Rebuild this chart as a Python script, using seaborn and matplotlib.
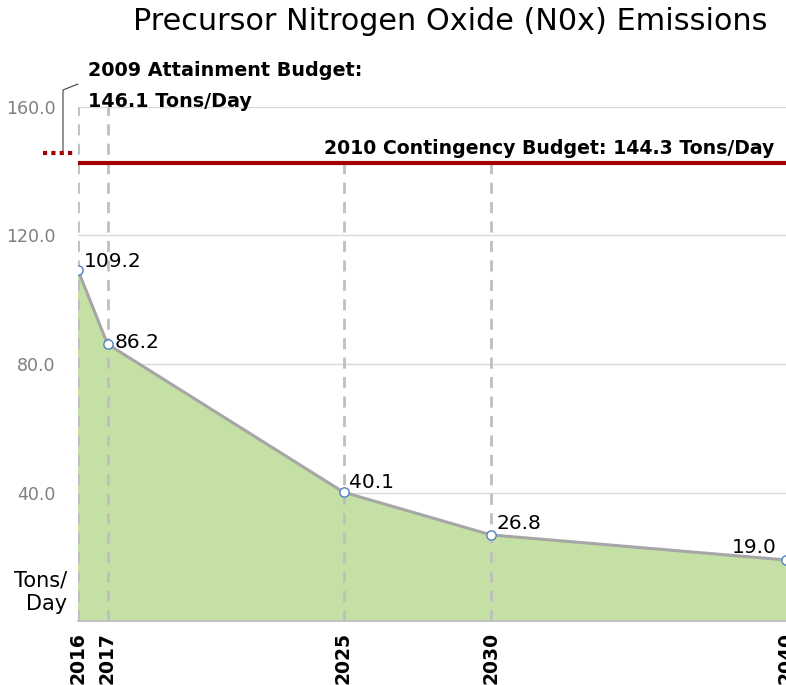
import matplotlib
matplotlib.use('Agg')
import matplotlib.pyplot as plt
import seaborn as sns
import pandas as pd

# data
years = [2016, 2017, 2025, 2030, 2040]
emissions = [109.2, 86.2, 40.1, 26.8, 19.0]
year_labels = ['2016', '2017', '2025', '2030', '2040']
y_ticks = [40, 80, 120, 160]
contingency_budget = 144.3
attainment_budget = 146.1

df = pd.DataFrame({'year': years, 'nox': emissions})

sns.set_theme(style='white')
plt.rcParams['font.family'] = ['DejaVu Sans']
plt.rcParams['text.color'] = 'black'

fig = plt.figure(figsize=(7.86, 6.85), dpi=100)
ax = fig.add_axes([78 / 786, 1 - 621 / 685, (786 - 78) / 786, (621 - 107) / 685])

# grid
for t in y_ticks:
    ax.axhline(t, color='#d9d9d9', lw=1, zorder=0)

ax.fill_between(df['year'], df['nox'], color='#c5e0a5', zorder=1)

# dashed drop lines
for yr in years[:-1]:
    top = 160 if yr < 2020 else 142.6
    ax.plot([yr, yr], [0, top], ls=(0, (4, 3)), color='#bfbfbf', lw=2, zorder=2)

sns.lineplot(data=df, x='year', y='nox', ax=ax, color='#a6a6a6', lw=2.2, zorder=3)
ax.scatter(df['year'], df['nox'], s=45, facecolor='white', edgecolor='#4f81bd', lw=1, zorder=4)

# label offsets (points) so text sits where it does in the reference
offsets = [(4, 6), (5, 1), (4, 7), (4, 8), (-7, 9)]
for (x, y), (dx, dy) in zip(zip(years, emissions), offsets):
    ax.annotate(f'{y:.1f}', (x, y), xytext=(dx, dy), textcoords='offset points',
                ha='right' if dx < 0 else 'left', va='center', fontsize=14.5)

# contingency budget line
ax.axhline(142.6, color='#a00000', lw=3, zorder=3)
ax.text(2039.6, 144.0, f'2010 Contingency Budget: {contingency_budget} Tons/Day',
        ha='right', va='bottom', fontsize=13.6, fontweight='bold', color='black')

ax.set_xlim(2016, 2040)
ax.set_ylim(0, 160)
ax.set_yticks(y_ticks)
ax.set_yticklabels([f'{t:.1f}' for t in y_ticks], color='#7f7f7f', fontsize=12.5)
ax.set_xticks(years)
ax.set_xticklabels(year_labels, rotation=90, fontweight='bold', fontsize=13.5, color='black')
ax.tick_params(axis='x', length=0, pad=8)
ax.tick_params(axis='y', length=0, pad=16)
ax.set_xlabel('')
ax.set_ylabel('')
for s in ['top', 'right', 'left']:
    ax.spines[s].set_visible(False)
ax.spines['bottom'].set_color('#bfbfbf')

# attainment budget marker outside the axes
fig.add_artist(plt.Line2D([43 / 786, 76 / 786], [1 - 153 / 685, 1 - 153 / 685],
                          color='#a00000', lw=3, ls=(0, (1, 1))))
fig.add_artist(plt.Line2D([63 / 786, 63 / 786, 78 / 786],
                          [1 - 151 / 685, 1 - 90 / 685, 1 - 84 / 685],
                          color='#404040', lw=0.8))
fig.text(88 / 786, 1 - 86 / 685, f'2009 Attainment Budget:\n{attainment_budget} Tons/Day',
         ha='left', va='center', fontsize=13.8, fontweight='bold', linespacing=1.75)

fig.text(67 / 786, 1 - 592 / 685, 'Tons/\nDay', ha='right', va='center', fontsize=15,
         linespacing=1.25)

fig.text(450 / 786, 1 - 22 / 685, 'Precursor Nitrogen Oxide (N0x) Emissions',
         ha='center', va='center', fontsize=21.8)

fig.savefig('out.png', dpi=100)
